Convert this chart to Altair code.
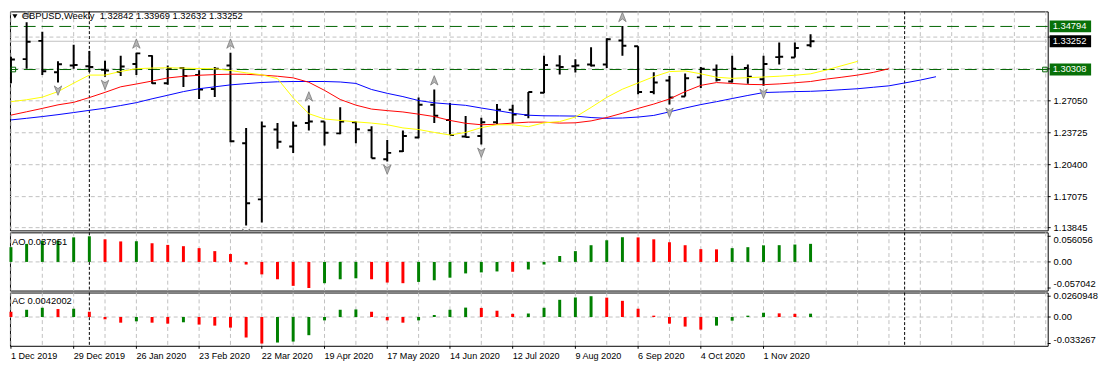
import altair as alt
import pandas as pd

# ---------------- weekly OHLC, week of 1 Dec 2019 ... week of 22 Nov 2020 ----------------
opens = [1.2940, 1.3139, 1.3329, 1.3003, 1.3073, 1.3066, 1.3028, 1.3006, 1.3089, 1.3173,
         1.2889, 1.3046, 1.2973, 1.2829, 1.3073, 1.2263, 1.1679, 1.2406, 1.2229, 1.2473,
         1.2489, 1.2366, 1.2483, 1.2399, 1.2096, 1.2179, 1.2323, 1.2663, 1.2506, 1.2333,
         1.2339, 1.2483, 1.2613, 1.2556, 1.2789, 1.3073, 1.3066, 1.3083, 1.3083, 1.3333,
         1.3273, 1.2796, 1.2916, 1.2749, 1.2949, 1.3029, 1.2906, 1.3046, 1.2929, 1.3160,
         1.3156, 1.32842]
highs = [1.3163, 1.3523, 1.3423, 1.3116, 1.3289, 1.3223, 1.3123, 1.3173, 1.3206, 1.3179,
         1.3073, 1.3056, 1.3023, 1.3056, 1.3206, 1.2423, 1.2489, 1.2473, 1.2489, 1.2656,
         1.2489, 1.2639, 1.2489, 1.2439, 1.2296, 1.2396, 1.2739, 1.2823, 1.2683, 1.2546,
         1.2529, 1.2673, 1.2663, 1.2796, 1.3173, 1.3179, 1.3139, 1.3263, 1.3356, 1.3483,
         1.3273, 1.3003, 1.2963, 1.2989, 1.3056, 1.3083, 1.3173, 1.3083, 1.3173, 1.3313,
         1.3313, 1.33969]
lows = [1.2889, 1.3039, 1.2973, 1.2896, 1.3039, 1.3006, 1.2956, 1.2963, 1.2973, 1.2883,
        1.2873, 1.2849, 1.2723, 1.2746, 1.2273, 1.1406, 1.1439, 1.2206, 1.2163, 1.2396,
        1.2239, 1.2356, 1.2263, 1.2106, 1.2073, 1.2173, 1.2316, 1.2473, 1.2349, 1.2323,
        1.2249, 1.2463, 1.2473, 1.2523, 1.2783, 1.2979, 1.2999, 1.3063, 1.3046, 1.3173,
        1.2773, 1.2773, 1.2666, 1.2749, 1.2839, 1.2906, 1.2896, 1.2883, 1.2863, 1.3083,
        1.3156, 1.32632]
closes = [1.3136, 1.3319, 1.3013, 1.3086, 1.3078, 1.3056, 1.3020, 1.3063, 1.3199, 1.2889,
          1.3039, 1.2963, 1.2823, 1.3039, 1.2283, 1.1639, 1.2439, 1.2279, 1.2446, 1.2489,
          1.2373, 1.2489, 1.2409, 1.2106, 1.2163, 1.2339, 1.2663, 1.2549, 1.2349, 1.2327,
          1.2483, 1.2613, 1.2563, 1.2796, 1.3079, 1.3056, 1.3073, 1.3073, 1.3346, 1.3279,
          1.2796, 1.2896, 1.2739, 1.2939, 1.3039, 1.2923, 1.3039, 1.2956, 1.3089, 1.3165,
          1.3256, 1.33252]

# ---------------- Alligator lines (shifted forward) ----------------
jaw = [1.2506, 1.2523, 1.2541, 1.2561, 1.2583, 1.2606, 1.2628, 1.2656, 1.2686, 1.2726,
       1.2763, 1.2801, 1.2831, 1.2851, 1.2871, 1.2884, 1.2896, 1.2903, 1.2906, 1.2906,
       1.2906, 1.2901, 1.2886, 1.2823, 1.2783, 1.2749, 1.2708, 1.2684, 1.2671, 1.2658,
       1.2630, 1.2604, 1.2576, 1.2555, 1.2549, 1.2548, 1.2546, 1.2531, 1.2523, 1.2526,
       1.2536, 1.2553, 1.2590, 1.2630, 1.2666, 1.2696, 1.2729, 1.2761, 1.2791, 1.2796,
       1.2801, 1.2804, 1.2811, 1.2821, 1.2831, 1.2846, 1.2861, 1.2891, 1.2921, 1.2956]
teeth = [1.2556, 1.2591, 1.2626, 1.2663, 1.2689, 1.2739, 1.2793, 1.2851, 1.2880, 1.2911,
         1.2943, 1.2960, 1.2971, 1.2978, 1.2982, 1.2981, 1.2973, 1.2961, 1.2944, 1.2898,
         1.2814, 1.2719, 1.2660, 1.2619, 1.2603, 1.2589, 1.2566, 1.2541, 1.2501, 1.2471,
         1.2456, 1.2461, 1.2473, 1.2483, 1.2483, 1.2473, 1.2476, 1.2496, 1.2531, 1.2576,
         1.2626, 1.2671, 1.2724, 1.2801, 1.2866, 1.2895, 1.2886, 1.2876, 1.2873, 1.2881,
         1.2893, 1.2906, 1.2931, 1.2951, 1.2973, 1.3001, 1.3039]
lips = [1.2696, 1.2716, 1.2743, 1.2801, 1.2889, 1.2973, 1.2973, 1.3011, 1.3039, 1.3046,
        1.3049, 1.3046, 1.3041, 1.3039, 1.3021, 1.2996, 1.2976, 1.2936, 1.2736, 1.2571,
        1.2516, 1.2501, 1.2486, 1.2473, 1.2456, 1.2423, 1.2406, 1.2376, 1.2349, 1.2376,
        1.2426, 1.2456, 1.2456, 1.2436, 1.2476, 1.2489, 1.2536, 1.2636, 1.2741, 1.2826,
        1.2891, 1.2956, 1.3009, 1.3016, 1.2986, 1.2951, 1.2939, 1.2946, 1.2953, 1.2961,
        1.2971, 1.2986, 1.3026, 1.3071, 1.3116]

# ---------------- oscillators ----------------
ao = [0.0322, 0.0394, 0.0462, 0.0466, 0.0537, 0.056056, 0.0494, 0.0448, 0.0452, 0.0408,
      0.0372, 0.0344, 0.0301, 0.0236, 0.0172, -0.0057, -0.0272, -0.0379, -0.0523, -0.057042,
      -0.0465, -0.0379, -0.0358, -0.0379, -0.0451, -0.0465, -0.0437, -0.0401, -0.0344, -0.0251,
      -0.0229, -0.0208, -0.0215, -0.0165, -0.0057, 0.0129, 0.0236, 0.0365, 0.0473, 0.0540,
      0.0536, 0.0494, 0.0430, 0.0365, 0.0279, 0.0275, 0.0301, 0.0322, 0.0362, 0.0366,
      0.0380, 0.0395]
ac = [0.0066, 0.0091, 0.0116, 0.0100, 0.0104, 0.0066, -0.0029, -0.0071, -0.0054, -0.0071,
      -0.0083, -0.0066, -0.0095, -0.0108, -0.0133, -0.0257, -0.033267, -0.0320, -0.0308, -0.0228,
      -0.0042, 0.0091, 0.0095, 0.0066, -0.0042, -0.0071, -0.0042, 0.0025, 0.0091, 0.0118,
      0.0114, 0.0079, 0.0040, 0.0044, 0.0116, 0.0216, 0.0245, 0.0260948, 0.0243, 0.0203,
      0.0104, 0.0017, -0.0083, -0.0120, -0.0158, -0.0108, -0.0046, 0.0017, 0.0054, 0.0046,
      0.0040, 0.0042002]

up_fractals = [1, 8, 14, 19, 27, 39]
down_fractals = [3, 6, 15, 24, 30, 42, 48]

date_labels = ["1 Dec 2019", "29 Dec 2019", "26 Jan 2020", "23 Feb 2020", "22 Mar 2020",
               "19 Apr 2020", "17 May 2020", "14 Jun 2020", "12 Jul 2020", "9 Aug 2020",
               "6 Sep 2020", "4 Oct 2020", "1 Nov 2020"]
price_ticks = [1.13845, 1.17075, 1.20400, 1.23725, 1.27050, 1.30375, 1.33685]
# labels of the two upper grid lines are hidden behind the level boxes in the reference
price_tick_labels = ["1.13845", "1.17075", "1.20400", "1.23725", "1.27050", "", ""]
level_prices = [1.34794, 1.30308]
anchor_idx = [0.15, 65.95]
anchor_price = 1.30308
bid_price = 1.33252
year_breaks = [5, 57]
ao_ticks = [0.056056, 0.0, -0.057042]
ao_tick_labels = ["0.056056", "0.00", "-0.057042"]
ac_ticks = [0.0260948, 0.0, -0.033267]
ac_tick_labels = ["0.0260948", "0.00", "-0.033267"]
title_text = "GBPUSD,Weekly\u00a0\u00a01.32842 1.33969 1.32632 1.33252"
ao_text = "AO 0.037951"
ac_text = "AC 0.0042002"

# ---------------- styling ----------------
W = 1052
H_MAIN, H_AO, H_AC = 222, 59, 54
FONT = "Liberation Sans"
FS = 9.5
GRID = "#c0c0c0"
LVL = "#006400"
LVL_BOX = "#087008"
UP_CLR = "#008000"
DN_CLR = "#ff0000"
UP_PATH = "M0,-1L0.75,0.9L0,0.35L-0.75,0.9Z"
DN_PATH = "M0,1L0.75,-0.9L0,-0.35L-0.75,-0.9Z"

n = len(opens)
idx = list(range(n))
bars = pd.DataFrame({"i": idx, "o": opens, "h": highs, "l": lows, "c": closes})
jaw_df = pd.DataFrame({"i": list(range(len(jaw))), "v": jaw})
teeth_df = pd.DataFrame({"i": list(range(len(teeth))), "v": teeth})
lips_df = pd.DataFrame({"i": list(range(len(lips))), "v": lips})
fr_up = pd.DataFrame({"i": up_fractals, "p": [highs[k] for k in up_fractals]})
fr_dn = pd.DataFrame({"i": down_fractals, "p": [lows[k] for k in down_fractals]})
levels = pd.DataFrame({"p": level_prices, "lbl": [f"{v:.5f}" for v in level_prices]})
bid = pd.DataFrame({"p": [bid_price], "lbl": [f"{bid_price:.5f}"]})
anchors = pd.DataFrame({"i": anchor_idx, "p": [anchor_price] * len(anchor_idx)})
years = pd.DataFrame({"i": year_breaks})
vgrid = pd.DataFrame({"i": list(range(0, 67, 2))})
hgrid = pd.DataFrame({"p": price_ticks, "lbl": price_tick_labels})
hgrid_lbl = hgrid[hgrid["lbl"] != ""]
dates = pd.DataFrame({"i": [4 * k for k in range(len(date_labels))], "lbl": date_labels})

ao_dir = ["up"] + ["up" if ao[k] > ao[k - 1] else "down" for k in range(1, len(ao))]
ac_dir = ["down"] + ["up" if ac[k] > ac[k - 1] else "down" for k in range(1, len(ac))]
ao_df = pd.DataFrame({"i": idx, "v": ao, "d": ao_dir})
ac_df = pd.DataFrame({"i": idx, "v": ac, "d": ac_dir})
ao_lbl_df = pd.DataFrame({"v": ao_ticks, "lbl": ao_tick_labels})
ac_lbl_df = pd.DataFrame({"v": ac_ticks, "lbl": ac_tick_labels})

xs = alt.Scale(domain=[-0.0625, 66.125], nice=False, zero=False)
ys = alt.Scale(domain=[1.1356, 1.3636], nice=False, zero=False)
ys_ao = alt.Scale(domain=[-0.0626, 0.0646], nice=False, zero=False)
ys_ac = alt.Scale(domain=[-0.0361, 0.0307], nice=False, zero=False)


def X():
    return alt.X("i:Q", scale=xs, axis=None)


def Y(field, scale):
    return alt.Y(f"{field}:Q", scale=scale, axis=None)


def text_at(txt, x, y):
    return alt.Chart(pd.DataFrame({"t": [txt]})).mark_text(
        align="left", baseline="middle", font=FONT, fontSize=FS, color="black"
    ).encode(x=alt.value(x), y=alt.value(y), text="t:N")


def common_layers():
    g = alt.Chart(vgrid).mark_rule(color=GRID, strokeDash=[4, 3], strokeWidth=1).encode(x=X())
    yr = alt.Chart(years).mark_rule(color="black", strokeDash=[3, 2], strokeWidth=1).encode(x=X())
    return g, yr


# ---------------- main price panel ----------------
g_main, yr_main = common_layers()
hg = alt.Chart(hgrid).mark_rule(color=GRID, strokeDash=[4, 3], strokeWidth=1).encode(y=Y("p", ys))
lvl_lines = alt.Chart(levels).mark_rule(color=LVL, strokeDash=[12, 6], strokeWidth=1).encode(y=Y("p", ys))
bid_line = alt.Chart(bid).mark_rule(color=GRID, strokeWidth=1).encode(y=Y("p", ys))
hl = alt.Chart(bars).mark_rule(color="black", strokeWidth=2, clip=True).encode(
    x=X(), y=Y("l", ys), y2="h:Q")
op = alt.Chart(bars).mark_rule(color="black", strokeWidth=2, x2Offset=-4, clip=True).encode(
    x=X(), x2=alt.X2("i"), y=Y("o", ys))
cl = alt.Chart(bars).mark_rule(color="black", strokeWidth=2, x2Offset=4, clip=True).encode(
    x=X(), x2=alt.X2("i"), y=Y("c", ys))
l_jaw = alt.Chart(jaw_df).mark_line(color="#0000ff", strokeWidth=1, clip=True).encode(x=X(), y=Y("v", ys))
l_teeth = alt.Chart(teeth_df).mark_line(color="#ff0000", strokeWidth=1, clip=True).encode(x=X(), y=Y("v", ys))
l_lips = alt.Chart(lips_df).mark_line(color="#ffff00", strokeWidth=1, clip=True).encode(x=X(), y=Y("v", ys))
f_up = alt.Chart(fr_up).mark_point(shape=UP_PATH, size=100, filled=True, fill="#b4b4b4", stroke="#7a7a7a",
                                   strokeWidth=0.8, opacity=1, yOffset=-9, clip=True).encode(
    x=X(), y=Y("p", ys))
f_dn = alt.Chart(fr_dn).mark_point(shape=DN_PATH, size=100, filled=True, fill="#b4b4b4", stroke="#7a7a7a",
                                   strokeWidth=0.8, opacity=1, yOffset=8, clip=True).encode(
    x=X(), y=Y("p", ys))
anch = alt.Chart(anchors).mark_point(shape="square", size=22, filled=False, color=LVL, strokeWidth=1,
                                     opacity=1).encode(x=X(), y=Y("p", ys))
ytick = alt.Chart(hgrid).mark_rule(color="black", strokeWidth=1).encode(
    x=alt.value(W), x2=alt.value(W + 3), y=Y("p", ys))
ylab = alt.Chart(hgrid_lbl).mark_text(align="left", baseline="middle", font=FONT, fontSize=FS,
                                      color="black").encode(x=alt.value(W + 6), y=Y("p", ys), text="lbl:N")
lvl_box = alt.Chart(levels).mark_tick(orient="horizontal", size=42, thickness=12, opacity=1,
                                      color=LVL_BOX).encode(x=alt.value(W + 23), y=Y("p", ys))
bid_box = alt.Chart(bid).mark_tick(orient="horizontal", size=42, thickness=12, opacity=1,
                                   color="black").encode(x=alt.value(W + 23), y=Y("p", ys))
lvl_txt = alt.Chart(levels).mark_text(align="left", baseline="middle", color="white", font=FONT,
                                      fontSize=FS).encode(x=alt.value(W + 5), y=Y("p", ys), text="lbl:N")
bid_txt = alt.Chart(bid).mark_text(align="left", baseline="middle", color="white", font=FONT,
                                   fontSize=FS).encode(x=alt.value(W + 5), y=Y("p", ys), text="lbl:N")
tri = alt.Chart(pd.DataFrame({"t": [0]})).mark_point(shape="triangle-down", filled=True, color="black",
                                                     size=26, opacity=1).encode(x=alt.value(5), y=alt.value(5))
ttl = text_at(title_text, 12, 5)

main = alt.layer(g_main, hg, yr_main, lvl_lines, bid_line, hl, op, cl, l_jaw, l_teeth, l_lips,
                 f_up, f_dn, anch, ytick, ylab, lvl_box, bid_box, lvl_txt, bid_txt, tri, ttl
                 ).properties(width=W, height=H_MAIN)


# ---------------- oscillator panels ----------------
def osc_panel(df, lbl_df, scale, height, top_dy, label_text, label_y, with_dates):
    g, yr = common_layers()
    zero = alt.Chart(pd.DataFrame({"z": [0.0]})).mark_rule(color=GRID, strokeDash=[4, 3]).encode(
        y=Y("z", scale))
    up = alt.Chart(df).transform_filter("datum.d == 'up'").mark_rule(strokeWidth=3, color=UP_CLR).encode(
        x=X(), y=Y("v", scale), y2=alt.datum(0))
    dn = alt.Chart(df).transform_filter("datum.d == 'down'").mark_rule(strokeWidth=3, color=DN_CLR).encode(
        x=X(), y=Y("v", scale), y2=alt.datum(0))
    ticks = alt.Chart(lbl_df).mark_rule(color="black", strokeWidth=1).encode(
        x=alt.value(W), x2=alt.value(W + 3), y=Y("v", scale))

    def lab(test, dy):
        return alt.Chart(lbl_df).transform_filter(test).mark_text(
            align="left", baseline="middle", font=FONT, fontSize=FS, color="black", dy=dy).encode(
            x=alt.value(W + 6), y=Y("v", scale), text="lbl:N")

    layers = [g, zero, yr, up, dn, ticks,
              lab("datum.v > 0.001", top_dy), lab("abs(datum.v) <= 0.001", 0), lab("datum.v < -0.001", -4),
              text_at(label_text, 2, label_y)]
    if with_dates:
        dt = alt.Chart(dates).mark_rule(color="black", strokeWidth=1).encode(
            x=X(), y=alt.value(height), y2=alt.value(height + 3))
        dl = alt.Chart(dates).mark_text(align="left", baseline="middle", font=FONT, fontSize=9.2,
                                        color="black").encode(x=X(), y=alt.value(height + 10), text="lbl:N")
        layers += [dt, dl]
    return alt.layer(*layers).properties(width=W, height=height)


ao_panel = osc_panel(ao_df, ao_lbl_df, ys_ao, H_AO, 4, ao_text, 10, False)
ac_panel = osc_panel(ac_df, ac_lbl_df, ys_ac, H_AC, 0, ac_text, 9, True)

chart = alt.vconcat(main, ao_panel, ac_panel, spacing=2, bounds="flush").properties(
    padding=0, background="white"
).configure_view(stroke="black", strokeWidth=1)

chart.save("out.html", embed_options={"renderer": "svg", "actions": False})
